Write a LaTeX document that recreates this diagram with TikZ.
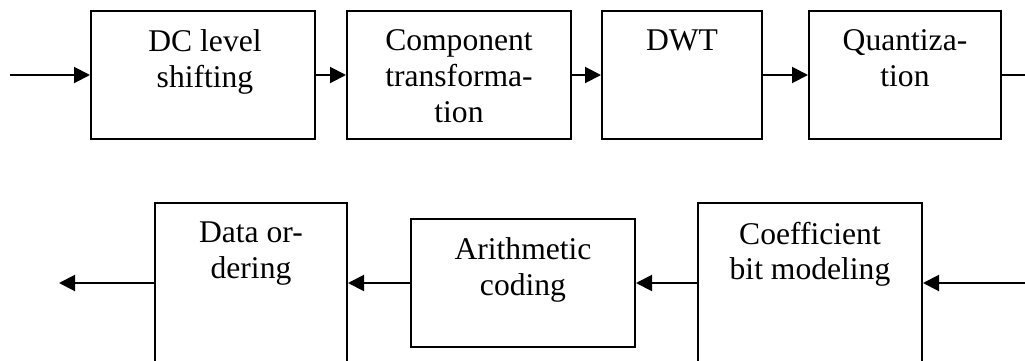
\documentclass[tikz,border=0pt]{standalone}
\usepackage{fontspec}
\setmainfont{Liberation Serif}
\usetikzlibrary{arrows.meta,calc}

\begin{document}
\begin{tikzpicture}[x=0.5pt,y=-0.5pt,
  block/.style 2 args={draw, line width=1pt, inner sep=0pt,
    minimum width=#1*0.5pt, minimum height=#2*0.5pt},
  lbl/.style={anchor=north, inner sep=0pt, align=center,
    font=\fontsize{15.8pt}{17.85pt}\selectfont},
  flow/.style={line width=1pt, -{Triangle[length=8pt,width=8pt]}},
  wire/.style={line width=1pt}]
  \useasboundingbox (0,0) rectangle (1025,360);
  \clip (0,0) rectangle (1025,360);

  % forward path
  \node[block={224}{128}] (b1) at (203,75) {};
  \node[block={224}{128}] (b2) at (459,75) {};
  \node[block={160}{128}] (b3) at (682,75) {};
  \node[block={192}{128}] (b4) at (905,75) {};
  \node[lbl] (t1) at ($(b1.north)+(2,19.5)$) {DC level\\shifting};
  \node[lbl] (t2) at ($(b2.north)+(0,19.5)$) {Component\\transforma-\\tion};
  \node[lbl] (t3) at ($(b3.north)+(0,19.5)$) {DWT};
  \node[lbl] (t4) at ($(b4.north)+(0,19.5)$) {Quantiza-\\tion};

  \coordinate (in) at (10,75);
  \coordinate (out) at (1025,75);
  \draw[flow] (in) -- (b1.west);
  \draw[flow] (b1.east) -- (b2.west);
  \draw[flow] (b2.east) -- (b3.west);
  \draw[flow] (b3.east) -- (b4.west);
  \draw[wire] (b4.east) -- (out);

  % entropy coding path
  \node[block={192}{160}] (d) at (251,283) {};
  \node[block={224}{128}] (a) at (523,283) {};
  \node[block={224}{160}] (c) at (810,283) {};
  \node[lbl] (td) at ($(d.north)+(0,19.5)$) {Data or-\\dering};
  \node[lbl] (ta) at ($(a.north)+(0,19.5)$) {Arithmetic\\coding};
  \node[lbl] (tc) at ($(c.north)+(0,19.5)$) {Coefficient\\bit modeling};

  \coordinate (cin) at (1025,283);
  \coordinate (dout) at (59,283);
  \draw[flow] (cin) -- (c.east);
  \draw[flow] (c.west) -- (a.east);
  \draw[flow] (a.west) -- (d.east);
  \draw[flow] (d.west) -- (dout);
\end{tikzpicture}
\end{document}
